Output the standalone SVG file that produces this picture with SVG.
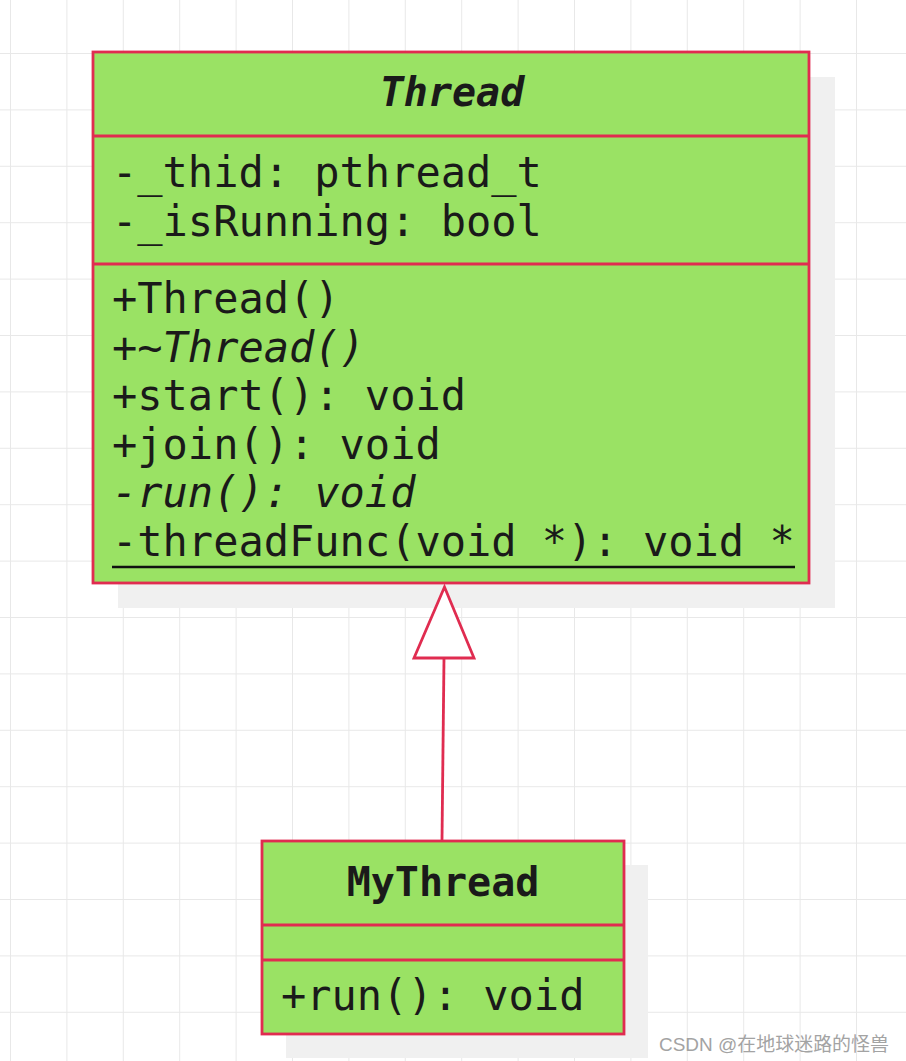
<svg xmlns="http://www.w3.org/2000/svg" width="906" height="1061" viewBox="0 0 906 1061">
<defs>
<pattern id="grid" x="10" y="-3.4" width="56.4" height="56.4" patternUnits="userSpaceOnUse">
<path d="M0 0V56.4M0 0H56.4" fill="none" stroke="#e8e8e8" stroke-width="2"/>
</pattern>
<style>
.box{fill:#9ae264;stroke:#e02c50;stroke-width:2.8}
.sep{stroke:#e02c50;stroke-width:2.8}
.shadow{fill:#f0f0f0}
.t{font-family:"DejaVu Sans Mono","Liberation Mono",monospace;font-size:42px;fill:#1a1a1a}
.title{font-weight:bold;text-anchor:middle;font-size:40px}
.it{font-style:italic}
.edge{fill:none;stroke:#e02c50;stroke-width:2.8}
.wm{font-family:"Liberation Sans","Noto Sans CJK SC",sans-serif;font-size:19px;fill:#a3a3a3}
</style>
</defs>
<rect width="906" height="1061" fill="#ffffff"/>
<rect width="906" height="1061" fill="url(#grid)"/>

<g id="Thread">
<rect class="shadow" x="118" y="77" width="717" height="531"/>
<rect class="box" x="93" y="52" width="716" height="531"/>
<line class="sep" x1="93" y1="136" x2="809" y2="136"/>
<line class="sep" x1="93" y1="264" x2="809" y2="264"/>
<text class="t title it" x="452" y="106">Thread</text>
<text class="t" x="112" y="187">-_thid: pthread_t</text>
<text class="t" x="112" y="235.5">-_isRunning: bool</text>
<text class="t" x="112" y="313">+Thread()</text>
<text class="t" x="112" y="361.5">+~<tspan class="it">Thread()</tspan></text>
<text class="t" x="112" y="410">+start(): void</text>
<text class="t" x="112" y="458.5">+join(): void</text>
<text class="t it" x="112" y="507">-run(): void</text>
<text class="t" x="112" y="556">-threadFunc(void *): void *</text>
<line x1="112" y1="567" x2="795" y2="567" stroke="#111" stroke-width="2.5"/>
</g>

<g id="MyThread">
<rect class="shadow" x="286" y="865" width="362" height="193"/>
<rect class="box" x="262" y="841" width="362" height="193"/>
<line class="sep" x1="262" y1="925" x2="624" y2="925"/>
<line class="sep" x1="262" y1="960" x2="624" y2="960"/>
<text class="t title" x="443" y="896">MyThread</text>
<text class="t" x="281" y="1010">+run(): void</text>
</g>

<g id="connectors">
<line class="edge" x1="442" y1="840" x2="444" y2="658"/>
<polygon class="edge" points="444.5,587 414,658 474,658" style="fill:#ffffff"/>
</g>

<text class="wm" x="659" y="1051" textLength="230" lengthAdjust="spacingAndGlyphs">CSDN @在地球迷路的怪兽</text>
</svg>
